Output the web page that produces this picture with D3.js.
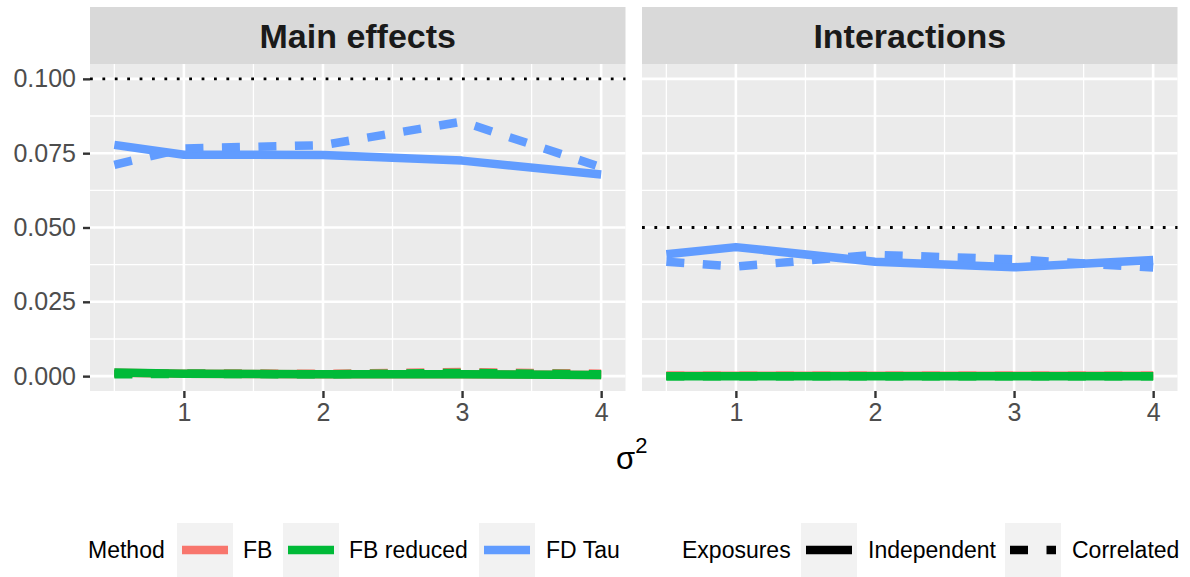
<!DOCTYPE html>
<html lang="en">
<head>
  <meta charset="UTF-8">
  <script src="https://cdn.jsdelivr.net/npm/d3@7/dist/d3.min.js"></script>
  <title>Type I error</title>
  <style>
    body { margin: 0; background: #fff; }
    text { font-family: 'Liberation Sans', Arial, sans-serif; }
  </style>
</head>
<body>
  <svg id="chart" width="1190" height="577"></svg>
  <script>
    const sigma2 = [0.5, 1, 2, 3, 4];
    const panels = ["Main effects", "Interactions"];
    const nominal = [0.1, 0.05];
    const methods = ["FB", "FB reduced", "FD Tau"];
    const methodColors = ["#F8766D", "#00BA38", "#619CFF"];
    const exposures = ["Independent", "Correlated"];
    const xTicks = [1, 2, 3, 4];
    const yTicks = [0, 0.025, 0.05, 0.075, 0.1];

    // main effects
    const fbMainIndep = [0.0011, 0.0008, 0.0006, 0.0006, 0.0004];
    const fbMainCorr = [0.0008, 0.0009, 0.0008, 0.0014, 0.0008];
    const fbrMainIndep = [0.0012, 0.0008, 0.0006, 0.0006, 0.0004];
    const fbrMainCorr = [0.0006, 0.0008, 0.0006, 0.0011, 0.0006];
    const tauMainIndep = [0.0778, 0.0745, 0.0744, 0.0725, 0.0678];
    const tauMainCorr = [0.0711, 0.0766, 0.0777, 0.0856, 0.0703];
    // interactions
    const fbIntIndep = [0.0001, 0.0001, 0.0001, 0.0001, 0.0001];
    const fbIntCorr = [0.0001, 0.0001, 0.0001, 0.0001, 0.0001];
    const fbrIntIndep = [0.0000, 0.0000, 0.0000, 0.0000, 0.0000];
    const fbrIntCorr = [0.0000, 0.0000, 0.0000, 0.0000, 0.0000];
    const tauIntIndep = [0.0410, 0.0434, 0.0385, 0.0366, 0.0391];
    const tauIntCorr = [0.0385, 0.0369, 0.0408, 0.0393, 0.0365];

    const values = [
      [[fbMainIndep, fbMainCorr], [fbrMainIndep, fbrMainCorr], [tauMainIndep, tauMainCorr]],
      [[fbIntIndep, fbIntCorr], [fbrIntIndep, fbrIntCorr], [tauIntIndep, tauIntCorr]]
    ];

    const svg = d3.select("#chart");
    const panelX = [[90, 625.5], [642, 1177.5]];
    const panelTop = 64, panelBottom = 391;
    const lineW = 8.5;
    const dashes = [null, "18,18.5"];

    const y = d3.scaleLinear().domain([-0.005, 0.105]).range([panelBottom, panelTop]);

    panels.forEach((name, p) => {
      const x = d3.scaleLinear().domain([0.325, 4.175]).range(panelX[p]);
      const g = svg.append("g");
      const w = panelX[p][1] - panelX[p][0];

      // strip
      g.append("rect").attr("x", panelX[p][0]).attr("y", 7)
        .attr("width", w).attr("height", panelTop - 7).attr("fill", "#D9D9D9");
      g.append("text").attr("x", (panelX[p][0] + panelX[p][1]) / 2).attr("y", 48)
        .attr("text-anchor", "middle").attr("font-size", 34).attr("font-weight", "bold")
        .attr("fill", "#1A1A1A").text(name);

      g.append("rect").attr("x", panelX[p][0]).attr("y", panelTop)
        .attr("width", w).attr("height", panelBottom - panelTop).attr("fill", "#EBEBEB");

      // grid
      const xMinor = [0.5, 1.5, 2.5, 3.5];
      const yMinor = [0.0125, 0.0375, 0.0625, 0.0875];
      g.selectAll(".xm").data(xMinor).enter().append("line")
        .attr("x1", d => x(d)).attr("x2", d => x(d)).attr("y1", panelTop).attr("y2", panelBottom)
        .attr("stroke", "#fff").attr("stroke-width", 1.3);
      g.selectAll(".ym").data(yMinor).enter().append("line")
        .attr("y1", d => y(d)).attr("y2", d => y(d)).attr("x1", panelX[p][0]).attr("x2", panelX[p][1])
        .attr("stroke", "#fff").attr("stroke-width", 1.3);
      g.selectAll(".xg").data(xTicks).enter().append("line")
        .attr("x1", d => x(d)).attr("x2", d => x(d)).attr("y1", panelTop).attr("y2", panelBottom)
        .attr("stroke", "#fff").attr("stroke-width", 2.6);
      g.selectAll(".yg").data(yTicks).enter().append("line")
        .attr("y1", d => y(d)).attr("y2", d => y(d)).attr("x1", panelX[p][0]).attr("x2", panelX[p][1])
        .attr("stroke", "#fff").attr("stroke-width", 2.6);

      // nominal level
      g.append("line").attr("x1", panelX[p][0]).attr("x2", panelX[p][1])
        .attr("y1", y(nominal[p])).attr("y2", y(nominal[p]))
        .attr("stroke", "#000").attr("stroke-width", 2.8).attr("stroke-dasharray", "2.8,9.6");

      // lines
      const line = d3.line().x((d, i) => x(sigma2[i])).y(d => y(d));
      methods.forEach((m, mi) => {
        exposures.forEach((e, ei) => {
          g.append("path").datum(values[p][mi][ei])
            .attr("d", line).attr("fill", "none")
            .attr("stroke", methodColors[mi]).attr("stroke-width", lineW)
            .attr("stroke-linejoin", "round")
            .attr("stroke-dasharray", dashes[ei]);
        });
      });

      // x axis
      const xa = g.append("g").attr("transform", `translate(0,${panelBottom})`)
        .call(d3.axisBottom(x).tickValues(xTicks).tickSize(7).tickPadding(5).tickFormat(d3.format("d")));
      xa.select(".domain").remove();
      xa.selectAll("line").attr("stroke", "#333").attr("stroke-width", 2.4);
      xa.selectAll("text").attr("font-size", 25).attr("fill", "#4D4D4D");

      if (p === 0) {
        const ya = g.append("g").attr("transform", `translate(${panelX[0][0]},0)`)
          .call(d3.axisLeft(y).tickValues(yTicks).tickSize(7).tickPadding(7).tickFormat(d3.format(".3f")));
        ya.select(".domain").remove();
        ya.selectAll("line").attr("stroke", "#333").attr("stroke-width", 2.4);
        ya.selectAll("text").attr("font-size", 25).attr("fill", "#4D4D4D");
      }
    });

    // axis title
    const at = svg.append("text").attr("x", 616).attr("y", 469).attr("font-size", 31);
    at.append("tspan").text("σ");
    at.append("tspan").attr("font-size", 22).attr("dy", -16).text("2");

    // legend
    const legY = 550;
    const lg = svg.append("g");
    function legendText(x, t) {
      lg.append("text").attr("x", x).attr("y", legY + 8).attr("font-size", 23).attr("fill", "#000").text(t);
    }
    function legendKey(x, color, dash) {
      lg.append("rect").attr("x", x).attr("y", 523).attr("width", 56).attr("height", 54).attr("fill", "#F2F2F2");
      lg.append("line").attr("x1", x + 5).attr("x2", x + 51).attr("y1", legY).attr("y2", legY)
        .attr("stroke", color).attr("stroke-width", lineW).attr("stroke-dasharray", dash);
    }
    const methodKeyX = [177, 283, 479];
    const methodLabelX = [243, 349, 546];
    legendText(88, "Method");
    methods.forEach((m, i) => {
      legendKey(methodKeyX[i], methodColors[i], null);
      legendText(methodLabelX[i], m);
    });
    const expKeyX = [801, 1005];
    const expLabelX = [868, 1072];
    legendText(682, "Exposures");
    exposures.forEach((e, i) => {
      legendKey(expKeyX[i], "#000", dashes[i]);
      legendText(expLabelX[i], e);
    });
  </script>
</body>
</html>
